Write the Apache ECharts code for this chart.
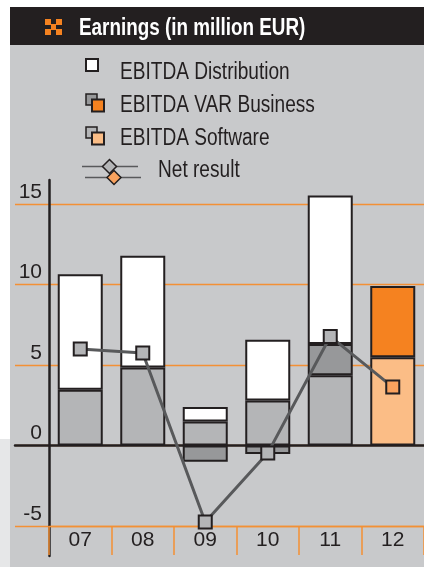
<!DOCTYPE html>
<html>
<head>
<meta charset="utf-8">
<title>Earnings</title>
<script src="https://cdn.jsdelivr.net/npm/echarts@6/dist/echarts.min.js"></script>
<style>
  html, body { margin: 0; padding: 0; background: #fff; }
  #wrap { position: relative; width: 424px; height: 567px; overflow: hidden; }
  .bg { position: absolute; }
  #main { position: absolute; left: 0; top: 0; width: 424px; height: 567px; }
</style>
</head>
<body>
<div id="wrap">
  <div class="bg" style="left:0;top:439px;width:10px;height:128px;background:#e6e7e8"></div>
  <div class="bg" style="left:10px;top:45px;width:414px;height:522px;background:#c8c9cb"></div>
  <div class="bg" style="left:10px;top:7px;width:414px;height:38px;background:#231f20"></div>
  <div id="main"></div>
</div>
<script type="text/javascript">
    // values (million EUR)
    var years = ['07', '08', '09', '10', '11', '12'];
    var software = [3.47, 4.85, 1.49, 2.8, 4.36, 5.48];
    var varBusiness = [null, null, -1.0, -0.52, 1.95, 4.44];
    var distribution = [7.17, 6.94, 0.9, 3.78, 9.22, null];
    var netResult = [6.0, 5.75, -4.75, -0.47, 6.78, 3.63];
    var forecast = [false, false, false, false, false, true];

    var font = '"Liberation Sans", Arial, sans-serif';
    var ink = '#231f20';
    var orangeLine = '#f39035';

    function items(values, pastColor, futureColor) {
        return values.map(function (v, i) {
            if (v === null) return '-';
            return { value: v, itemStyle: { color: forecast[i] ? futureColor : pastColor } };
        });
    }

    // condensed look: regular font squeezed horizontally
    function label(text, x, y, opts) {
        return {
            type: 'text', x: x, y: y, scaleX: opts.scale,
            style: {
                text: text, x: 0, y: 0, verticalAlign: 'middle',
                fontFamily: font, fontSize: opts.size, fontWeight: opts.bold ? 'bold' : 'normal',
                fill: opts.color || ink
            }
        };
    }

    var myChart = echarts.init(document.getElementById('main'));

    var lg = { size: 23, scale: 0.83 };
    var option = {
        animation: false,
        backgroundColor: 'transparent',
        graphic: [
            // title icon
            { type: 'rect', shape: { x: 45, y: 19, width: 6, height: 6 }, style: { fill: '#f58220' } },
            { type: 'rect', shape: { x: 56, y: 19, width: 6, height: 6 }, style: { fill: '#f58220' } },
            { type: 'rect', shape: { x: 45, y: 29, width: 6, height: 6 }, style: { fill: '#f58220' } },
            { type: 'rect', shape: { x: 56, y: 29, width: 6, height: 6 }, style: { fill: '#f58220' } },
            { type: 'rect', shape: { x: 51, y: 24, width: 5, height: 6 }, style: { fill: '#f58220' } },
            label('Earnings (in million EUR)', 79, 28.5, { size: 23, scale: 0.82, bold: true, color: '#fff' }),
            // legend
            { type: 'rect', shape: { x: 86, y: 59, width: 12, height: 12 }, style: { fill: '#fff', stroke: ink, lineWidth: 2 } },
            label('EBITDA Distribution', 120, 73, lg),
            { type: 'rect', shape: { x: 86, y: 94, width: 11, height: 11 }, style: { fill: '#97989a', stroke: ink, lineWidth: 1.5 } },
            { type: 'rect', shape: { x: 92, y: 99.5, width: 12, height: 12 }, style: { fill: '#f58220', stroke: ink, lineWidth: 2 } },
            label('EBITDA VAR Business', 120, 105.5, lg),
            { type: 'rect', shape: { x: 86, y: 127, width: 11, height: 11 }, style: { fill: '#b4b5b7', stroke: ink, lineWidth: 1.5 } },
            { type: 'rect', shape: { x: 92, y: 132.5, width: 12, height: 12 }, style: { fill: '#fbbd86', stroke: ink, lineWidth: 2 } },
            label('EBITDA Software', 120, 138.5, lg),
            { type: 'line', shape: { x1: 82, y1: 166.5, x2: 138, y2: 166.5 }, style: { stroke: '#58595b', lineWidth: 1.5 } },
            { type: 'line', shape: { x1: 85, y1: 177.5, x2: 141, y2: 177.5 }, style: { stroke: '#58595b', lineWidth: 1.5 } },
            { type: 'polygon', shape: { points: [[109.5, 159.5], [116.5, 166.5], [109.5, 173.5], [102.5, 166.5]] }, style: { fill: '#b4b5b7', stroke: ink, lineWidth: 1.5 } },
            { type: 'polygon', shape: { points: [[114, 170.5], [121, 177.5], [114, 184.5], [107, 177.5]] }, style: { fill: '#f9a25e', stroke: ink, lineWidth: 1.5 } },
            label('Net result', 158, 170.5, lg)
        ],
        grid: [
            // gridlines reaching past the axis
            { left: 15, right: 0, top: 180, bottom: 41 },
            // plot
            { left: 49, right: 0, top: 180, bottom: 41 },
            // long y axis line
            { left: 49, width: 10, top: 180, bottom: 11 }
        ],
        xAxis: [
            {
                gridIndex: 0, type: 'category', data: years,
                axisLine: { show: true, onZero: true, lineStyle: { color: ink, width: 2.5 } },
                axisTick: { show: false }, axisLabel: { show: false }, splitLine: { show: false }
            },
            {
                gridIndex: 1, type: 'category', data: years, boundaryGap: true,
                axisLine: { show: true, onZero: false, lineStyle: { color: orangeLine, width: 1.3 } },
                axisTick: { show: true, length: 29, lineStyle: { color: orangeLine, width: 1.5 } },
                axisLabel: { color: ink, fontFamily: font, fontSize: 21, margin: 4 },
                splitLine: { show: false }
            },
            { gridIndex: 2, type: 'value', show: false }
        ],
        yAxis: [
            {
                gridIndex: 0, type: 'value', min: -5, max: 16.5, interval: 5,
                axisLine: { show: false }, axisTick: { show: false }, axisLabel: { show: false },
                splitLine: { show: true, showMaxLine: false, lineStyle: { color: orangeLine, width: 1.3 } }
            },
            {
                gridIndex: 1, type: 'value', min: -5, max: 16.5, interval: 5,
                axisLine: { show: false }, axisTick: { show: false },
                axisLabel: {
                    color: ink, fontFamily: font, fontSize: 21, margin: 7,
                    verticalAlign: 'bottom', padding: [0, 0, 1.5, 0], showMaxLabel: false
                },
                splitLine: { show: false }
            },
            {
                gridIndex: 2, type: 'value', min: 0, max: 1,
                axisLine: { show: true, lineStyle: { color: ink, width: 2.5 } },
                axisTick: { show: false }, axisLabel: { show: false }, splitLine: { show: false }
            }
        ],
        series: [
            {
                name: 'EBITDA Software', type: 'bar', stack: 'ebitda', xAxisIndex: 1, yAxisIndex: 1,
                barWidth: 45,
                itemStyle: { borderColor: ink, borderWidth: 2 },
                data: items(software, '#b4b5b7', '#fbbd86')
            },
            {
                name: 'EBITDA VAR Business', type: 'bar', stack: 'ebitda', xAxisIndex: 1, yAxisIndex: 1,
                barWidth: 45,
                itemStyle: { borderColor: ink, borderWidth: 2 },
                data: items(varBusiness, '#97989a', '#f58220')
            },
            {
                name: 'EBITDA Distribution', type: 'bar', stack: 'ebitda', xAxisIndex: 1, yAxisIndex: 1,
                barWidth: 45,
                itemStyle: { borderColor: ink, borderWidth: 2 },
                data: items(distribution, '#ffffff', '#ffffff')
            },
            {
                name: 'Net result', type: 'line', xAxisIndex: 1, yAxisIndex: 1,
                symbol: 'rect', symbolSize: 13,
                lineStyle: { color: '#58595b', width: 3 },
                itemStyle: { borderColor: ink, borderWidth: 2 },
                data: items(netResult, '#b4b5b7', '#f9a25e'),
                z: 5
            }
        ]
    };
    myChart.setOption(option);
</script>
</body>
</html>
